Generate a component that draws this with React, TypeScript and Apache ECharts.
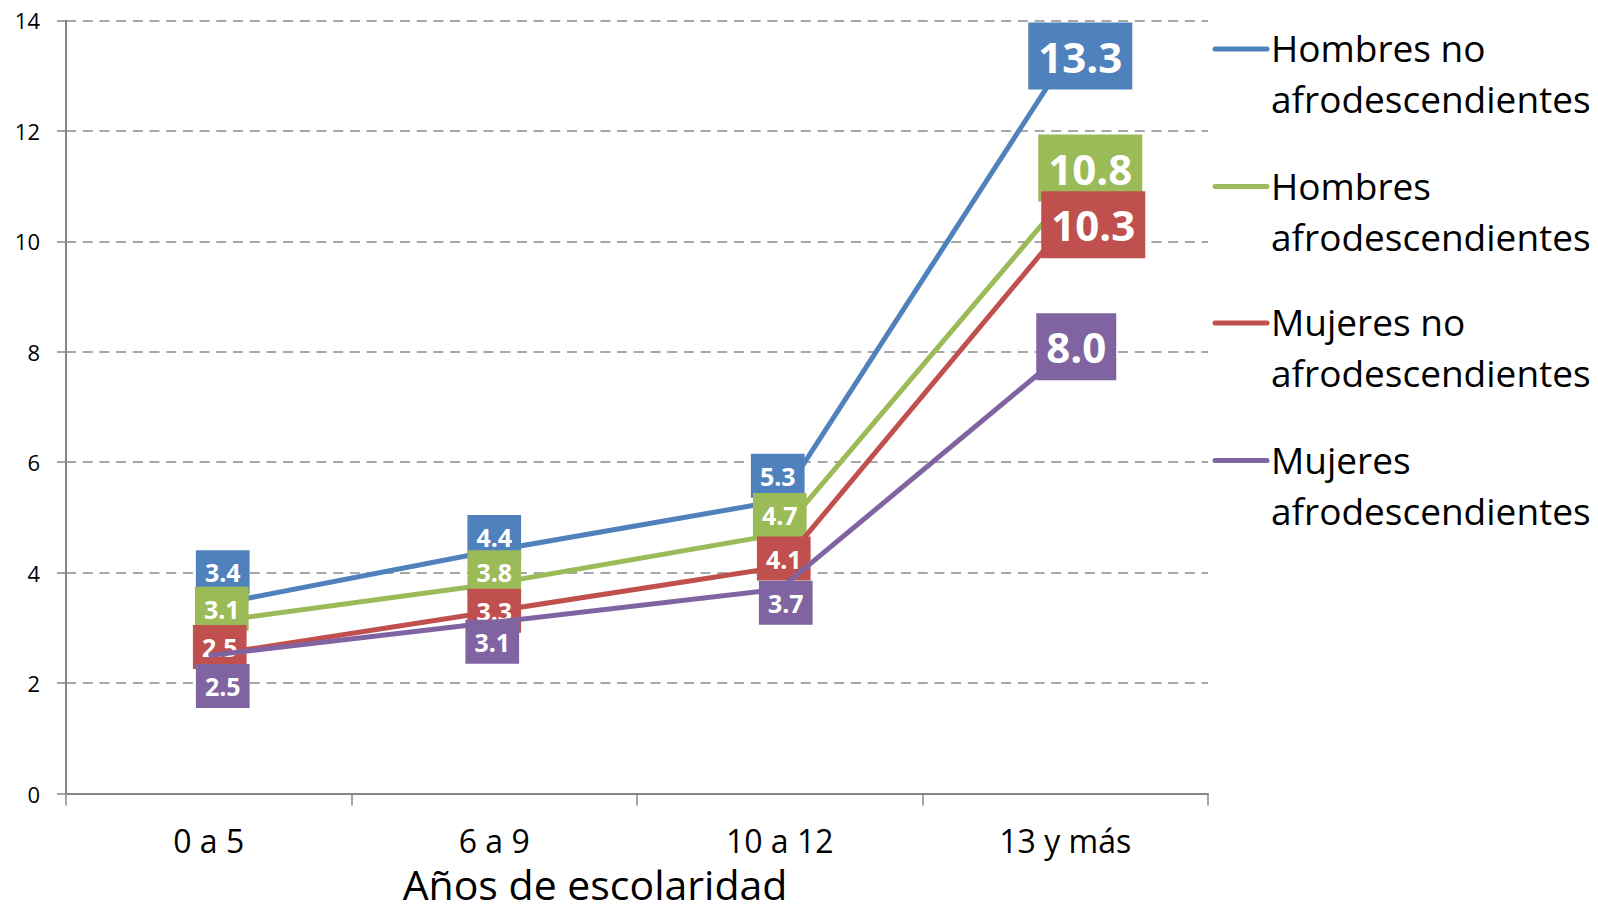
import React, { useEffect, useRef } from "react";
import * as echarts from "echarts";

const categories = ["0 a 5", "6 a 9", "10 a 12", "13 y más"];
const seriesNames = [
  "Hombres no\nafrodescendientes",
  "Hombres\nafrodescendientes",
  "Mujeres no\nafrodescendientes",
  "Mujeres\nafrodescendientes",
];
const hombresNoAfro = [3.4, 4.4, 5.3, 13.3];
const hombresAfro = [3.1, 3.8, 4.7, 10.8];
const mujeresNoAfro = [2.5, 3.3, 4.1, 10.3];
const mujeresAfro = [2.5, 3.1, 3.7, 8.0];
const yMin = 0;
const yMax = 14;
const yInterval = 2;
const xAxisTitle = "Años de escolaridad";

const seriesValues = [hombresNoAfro, hombresAfro, mujeresNoAfro, mujeresAfro];
const colors = ["#4F81BD", "#9BBB59", "#C0504D", "#8064A2"];

// label placement (styling only)
const labelOffsets = [
  [[14, -33.5], [0, -13.5], [-2, -25], [15, -3]],
  [[13, -13.5], [0, -11.5], [0, -19], [25, -29]],
  [[11, -8.5], [0, -0.5], [4, -8.5], [28, 0]],
  [[14, 30.5], [-2, 19.5], [6, 13.5], [11, -5]],
];

const FONT = "'Open Sans', 'Noto Sans', sans-serif";

export default function App() {
  const ref = useRef<HTMLDivElement>(null);
  useEffect(() => {
    if (!ref.current) return;
    const chart = echarts.init(ref.current, null, { renderer: "svg" });

    const series = seriesValues.map((vals, si) => ({
      name: seriesNames[si],
      type: "line",
      symbol: "circle",
      symbolSize: 1,
      showSymbol: true,
      z: 2 + si,
      lineStyle: { color: colors[si], width: 5 },
      itemStyle: { color: colors[si] },
      data: vals.map((v, i) => {
        const big = i === vals.length - 1;
        return {
          value: v,
          label: {
            show: true,
            position: "inside",
            offset: labelOffsets[si][i],
            formatter: () => v.toFixed(1),
            color: "#fff",
            fontWeight: "bold",
            fontFamily: FONT,
            fontSize: big ? 42 : 25,
            lineHeight: big ? 47 : 28,
            backgroundColor: colors[si],
            padding: big ? [10, 10] : [8, 9],
            align: "center",
            verticalAlign: "middle",
          },
        };
      }),
    }));

    const legendGraphics: any[] = [];
    const legendY = [49, 186.5, 323, 460.5];
    seriesNames.forEach((n, si) => {
      legendGraphics.push({
        type: "line",
        shape: { x1: 1215, y1: legendY[si], x2: 1267, y2: legendY[si] },
        style: { stroke: colors[si], lineWidth: 5, lineCap: "round" },
      });
      legendGraphics.push({
        type: "text",
        x: 1271,
        y: legendY[si] - 27,
        style: {
          text: n,
          fontFamily: FONT,
          fontSize: 37,
          lineHeight: 51,
          fill: "#000",
          verticalAlign: "top",
          align: "left",
        },
      });
    });

    chart.setOption({
      animation: false,
      backgroundColor: "#fff",
      grid: { left: 66, right: 390, top: 20.4, bottom: 120.5, containLabel: false },
      xAxis: {
        type: "category",
        data: categories,
        boundaryGap: true,
        axisLine: { show: true, lineStyle: { color: "#868686", width: 2 } },
        axisTick: { show: true, alignWithLabel: false, length: 12, lineStyle: { color: "#868686", width: 1.5 } },
        axisLabel: { color: "#000", fontFamily: FONT, fontSize: 32, margin: 31 },
        name: xAxisTitle,
        nameLocation: "middle",
        nameGap: 70,
        nameTextStyle: {
          color: "#000",
          fontFamily: FONT,
          fontSize: 41,
          lineHeight: 40,
          padding: [0, 84, 0, 0],
        },
      },
      yAxis: {
        type: "value",
        min: yMin,
        max: yMax,
        interval: yInterval,
        axisLine: { show: true, lineStyle: { color: "#868686", width: 2 } },
        axisTick: { show: true, length: 9, lineStyle: { color: "#868686", width: 1.5 } },
        axisLabel: { color: "#000", fontFamily: FONT, fontSize: 22, margin: 26 },
        splitLine: { show: true, lineStyle: { color: "#8a8a8a", width: 1.5, type: [10, 6.7] } },
      },
      graphic: legendGraphics,
      series,
    });
    return () => chart.dispose();
  }, []);
  return (
    <div
      ref={ref}
      style={{ position: "absolute", left: 0, top: 0, width: 1598, height: 914 }}
    />
  );
}
